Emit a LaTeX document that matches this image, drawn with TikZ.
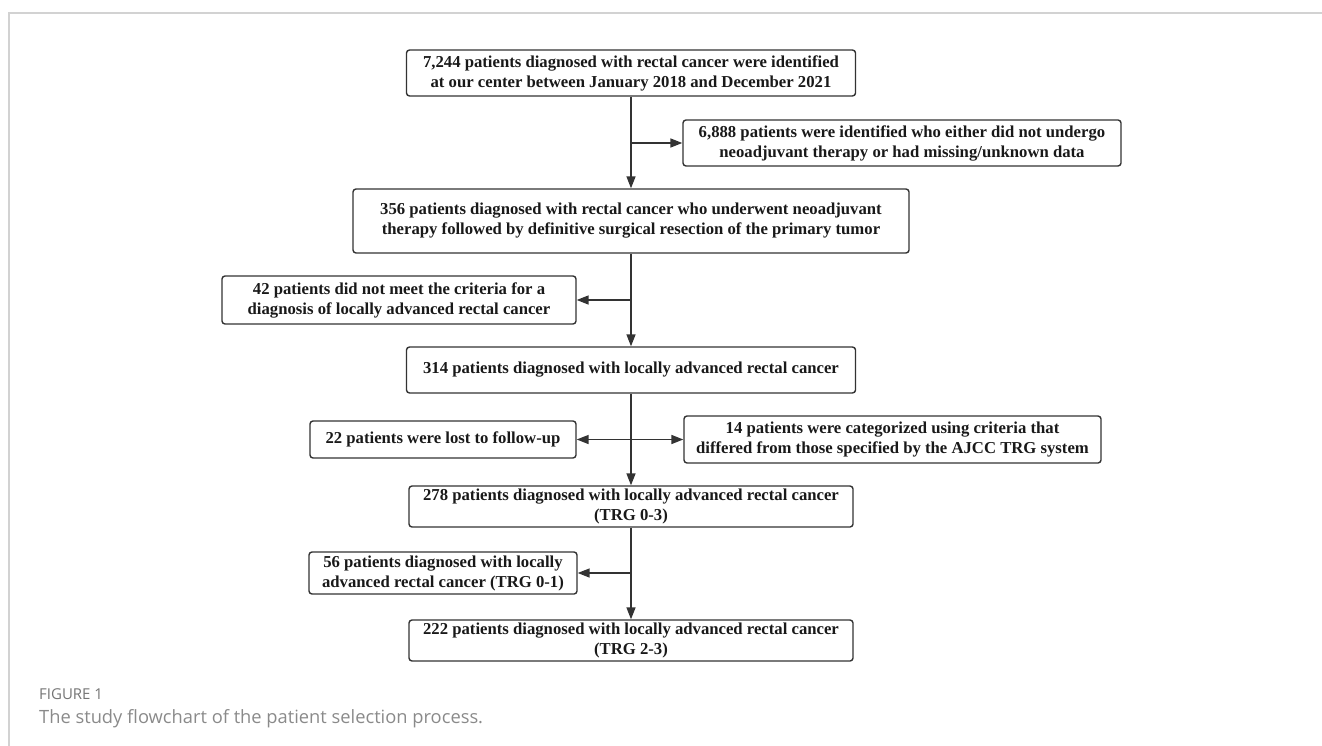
\documentclass[tikz,border=0pt]{standalone}
\usepackage{fontspec}
\setmainfont{Liberation Serif}
\newfontfamily\capfont{Open Sans}
\usetikzlibrary{arrows.meta}
\definecolor{boxline}{HTML}{333333}
\definecolor{framegray}{HTML}{D2D2D2}
\definecolor{capgray}{HTML}{8A8A8A}
\begin{document}
\begin{tikzpicture}[x=1pt,y=-1pt,
    box/.style={draw=boxline,line width=1.4pt,rounded corners=3pt,align=center,inner sep=0pt,
      text=black!90,font=\bfseries\fontsize{16.7}{20}\selectfont},
    arr/.style={draw=boxline,line width=1.6pt,-{Triangle[length=12pt,width=9pt]}}]
  \useasboundingbox (0,0) rectangle (1322,746);
  \draw[framegray,line width=1.5pt] (9,746) -- (9,13) -- (1322,13);
  % boxes
  \node[box,minimum width=449pt,minimum height=46pt] (n7244) at (631,73)
    {7,244 patients diagnosed with rectal cancer were identified\\at our center between January 2018 and December 2021};
  \node[box,minimum width=438pt,minimum height=46pt] (n6888) at (902,143)
    {6,888 patients were identified who either did not undergo\\neoadjuvant therapy or had missing/unknown data};
  \node[box,minimum width=556pt,minimum height=64pt] (n356) at (631,221)
    {356 patients diagnosed with rectal cancer who underwent neoadjuvant\\therapy followed by definitive surgical resection of the primary tumor};
  \node[box,minimum width=354pt,minimum height=48pt] (n42) at (399,300)
    {42 patients did not meet the criteria for a\\diagnosis of locally advanced rectal cancer};
  \node[box,minimum width=449pt,minimum height=46pt] (n314) at (631,370)
    {314 patients diagnosed with locally advanced rectal cancer};
  \node[box,minimum width=266pt,minimum height=37pt] (n22) at (443,439.5)
    {22 patients were lost to follow-up};
  \node[box,minimum width=417pt,minimum height=47pt] (n14) at (892.5,439.5)
    {14 patients were categorized using criteria that\\differed from those specified by the AJCC TRG system};
  \node[box,minimum width=444pt,minimum height=41pt] (n278) at (631,506.5)
    {278 patients diagnosed with locally advanced rectal cancer\\(TRG 0-3)};
  \node[box,minimum width=268pt,minimum height=42pt] (n56) at (443,573)
    {56 patients diagnosed with locally\\advanced rectal cancer (TRG 0-1)};
  \node[box,minimum width=444pt,minimum height=41pt] (n222) at (631,640.5)
    {222 patients diagnosed with locally advanced rectal cancer\\(TRG 2-3)};
  % arrows
  \draw[arr] (n7244.south) -- (n356.north);
  \draw[arr] (n7244.south |- n6888.west) -- (n6888.west);
  \draw[arr] (n356.south) -- (n314.north);
  \draw[arr] (n356.south |- n42.east) -- (n42.east);
  \draw[arr] (n314.south) -- (n278.north);
  \draw[arr] (n314.south |- n22.east) -- (n22.east);
  \draw[arr] (n314.south |- n14.west) -- (n14.west);
  \draw[arr] (n278.south) -- (n222.north);
  \draw[arr] (n278.south |- n56.east) -- (n56.east);
  % caption
  \node[anchor=base west,inner sep=0pt,text=capgray!85!black,font=\capfont\fontsize{15}{18}\selectfont] (figlabel) at (39,699) {FIGURE 1};
  \node[anchor=base west,inner sep=0pt,text=capgray,font=\capfont\fontsize{18.3}{22}\selectfont] (figcaption) at (39,723) {The study flowchart of the patient selection process.};
\end{tikzpicture}
\end{document}
